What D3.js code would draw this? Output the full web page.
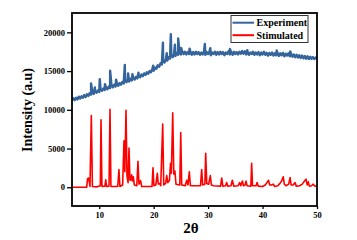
<!DOCTYPE html>
<html>
<head>
<meta charset="utf-8">
<script src="https://cdn.jsdelivr.net/npm/d3@7"></script>
<style>
  body { margin: 0; background: #fff; }
  text { font-family: "Liberation Serif", "Times New Roman", serif; font-weight: bold; }
</style>
</head>
<body>
<div id="visual"></div>
<script>
// experiment baseline, one value every 0.25 deg from 5 to 50
const expStart = 5;
const expStep = 0.25;
const expBase = [
  11250, 11500, 11250, 11550, 11350, 11700, 11450, 11750, 11550, 11900, 11650, 12000,
  11800, 12150, 11950, 12250, 12050, 12400, 12200, 12500, 12300, 12650, 12450, 12750,
  12550, 12900, 12650, 13000, 12800, 13150, 12900, 13250, 13000, 13400, 13100, 13450,
  13250, 13600, 13400, 13750, 13550, 13950, 13650, 14000, 13800, 14150, 13900, 14250,
  14050, 14400, 14200, 14550, 14350, 14700, 14500, 14850, 14650, 15000, 14850, 15250,
  15050, 15450, 15300, 15750, 15550, 16000, 15850, 16250, 16100, 16500, 16350, 16800,
  16600, 17000, 16800, 17200, 16950, 17350, 17100, 17450, 17150, 17500, 17200, 17500,
  17150, 17450, 17200, 17500, 17100, 17450, 17150, 17500, 17200, 17450, 17100, 17400,
  17150, 17500, 17100, 17450, 17200, 17500, 17050, 17400, 17200, 17500, 17100, 17450,
  17150, 17500, 17200, 17450, 17050, 17400, 17200, 17550, 17150, 17450, 17100, 17500,
  17200, 17450, 17150, 17500, 17250, 17600, 17250, 17550, 17150, 17450, 17100, 17400,
  17200, 17500, 17100, 17400, 17150, 17450, 17050, 17400, 17150, 17500, 17100, 17350,
  17000, 17350, 17100, 17400, 17000, 17300, 17050, 17350, 16950, 17300, 17050, 17350,
  16900, 17250, 17000, 17300, 16900, 17200, 16850, 17150, 16800, 17100, 16750, 17050,
  16700, 17000, 16650, 16950, 16600, 16900, 16550, 16850, 16600, 16800, 16550, 16750,
  16600
];
// sharp experiment reflections [2theta, counts]
const expPeaks = [
  [8.5, 13400], [9.2, 12900], [10.1, 13950], [11.05, 13300], [12.0, 15050],
  [13.1, 13900], [14.7, 15800], [15.3, 14700], [16.1, 14600], [17.2, 14800],
  [19.9, 15700], [21.7, 18650], [22.4, 17300], [23.15, 19750], [23.9, 18400],
  [24.5, 19200], [25.05, 18000], [26.6, 17900], [29.4, 18500], [30.4, 17950],
  [34.0, 17850], [37.2, 17700], [42.6, 17650], [45.1, 17550]
];
// simulated pattern [2theta, counts]
const simulated = [
  [5, 0], [7.7, 0], [7.85, 1100], [8.0, 1200], [8.15, 800], [8.3, 100], [8.55, 9250], [8.75, 100],
  [9.6, 50], [10.2, 200], [10.33, 8700], [10.5, 100], [11.05, 150], [11.2, 950], [11.35, 100],
  [11.8, 150], [11.98, 10050], [12.15, 100], [13.4, 100], [13.62, 2300], [13.8, 100],
  [14.3, 300], [14.55, 6000], [14.7, 2000], [14.92, 9950], [15.1, 1500], [15.3, 600],
  [15.47, 5050], [15.65, 900], [15.85, 1000], [15.96, 1600], [16.1, 800], [16.27, 1350],
  [16.45, 300], [16.9, 200], [17.12, 3350], [17.3, 400], [17.6, 850], [17.8, 100],
  [19.7, 100], [19.88, 2500], [20.05, 200], [20.4, 300], [20.67, 1800], [20.85, 400],
  [21.1, 500], [21.3, 200], [21.66, 8150], [21.85, 300], [22.2, 500], [22.4, 1500],
  [22.6, 600], [22.9, 900], [23.1, 3100], [23.25, 1800], [23.5, 9600], [23.7, 1700],
  [23.9, 2100], [24.1, 400], [24.8, 300], [24.97, 7050], [25.15, 300], [25.8, 200],
  [26.07, 900], [26.3, 300], [26.55, 2000], [26.75, 200], [28.6, 200], [28.82, 2300],
  [29.0, 300], [29.4, 400], [29.56, 4400], [29.75, 500], [30.1, 400], [30.4, 1500],
  [30.6, 300], [31.0, 200], [32.3, 150], [32.5, 1200], [32.7, 150], [33.2, 200],
  [33.4, 600], [33.6, 150], [34.2, 200], [34.45, 900], [34.7, 150], [35.5, 200],
  [35.8, 600], [36.0, 200], [36.3, 800], [36.5, 200], [36.8, 300], [36.96, 800],
  [37.15, 200], [37.85, 150], [38.0, 3100], [38.15, 200], [38.8, 200], [39.0, 600],
  [39.2, 150], [40.0, 100], [40.5, 300], [40.8, 600], [41.1, 900], [41.3, 300],
  [41.6, 300], [41.97, 400], [42.2, 100], [42.8, 200], [43.2, 500], [43.5, 800],
  [43.8, 1350], [44.0, 400], [44.3, 200], [44.8, 400], [45.05, 1250], [45.25, 300],
  [45.6, 300], [45.96, 600], [46.2, 150], [46.8, 200], [47.3, 400], [47.6, 700],
  [47.98, 1050], [48.2, 300], [48.4, 700], [48.6, 150], [49.0, 200], [49.3, 400],
  [49.6, 150], [50, 150]
];
const xTicks = [10, 20, 30, 40, 50];
const yTicks = [0, 5000, 10000, 15000, 20000];
const seriesNames = ["Experiment", "Stimulated"];
const seriesColors = ["#33649b", "#ff0000"];

const width = 357;
const height = 240;
const plotLeft = 72, plotRight = 317, plotTop = 13, plotBottom = 206;

const svg = d3.select("#visual")
    .append("svg")
    .attr("width", width)
    .attr("height", height);

const x = d3.scaleLinear().domain([5, 50]).range([plotLeft, plotRight]);
const y = d3.scaleLinear().domain([-2420, 22500]).range([plotBottom, plotTop]);

// merge baseline and peaks for the experiment trace
const experiment = expBase.map((v, i) => [expStart + i * expStep, v])
    .concat(expPeaks)
    .sort((a, b) => a[0] - b[0]);

svg.append("clipPath").attr("id", "plotclip")
    .append("rect")
    .attr("x", plotLeft).attr("y", plotTop)
    .attr("width", plotRight - plotLeft).attr("height", plotBottom - plotTop);

const line = d3.line().x(d => x(d[0])).y(d => y(d[1]));

svg.append("path")
    .datum(simulated)
    .attr("clip-path", "url(#plotclip)")
    .attr("fill", "none")
    .attr("stroke", seriesColors[1])
    .attr("stroke-width", 1.6)
    .attr("stroke-linejoin", "round")
    .attr("d", line);

svg.append("path")
    .datum(experiment)
    .attr("clip-path", "url(#plotclip)")
    .attr("fill", "none")
    .attr("stroke", seriesColors[0])
    .attr("stroke-width", 2.4)
    .attr("stroke-linejoin", "round")
    .attr("d", line);

// axes
const xAxis = svg.append("g")
    .attr("transform", "translate(0," + plotBottom + ")")
    .call(d3.axisBottom(x).tickValues(xTicks).tickSize(3).tickPadding(3));
const yAxis = svg.append("g")
    .attr("transform", "translate(" + plotLeft + ",0)")
    .call(d3.axisLeft(y).tickValues(yTicks).tickSize(5).tickPadding(2).tickFormat(d3.format("d")));
[xAxis, yAxis].forEach(g => {
    g.select(".domain").remove();
    g.selectAll("line").attr("stroke", "#000").attr("stroke-width", 1.3);
    g.selectAll("text")
        .attr("fill", "#000")
        .style("font-size", "8.5px")
        .style("font-family", "'Liberation Serif', serif")
        .style("font-weight", "bold");
});

// frame
svg.append("rect")
    .attr("x", plotLeft).attr("y", plotTop)
    .attr("width", plotRight - plotLeft).attr("height", plotBottom - plotTop)
    .attr("fill", "none")
    .attr("stroke", "#000")
    .attr("stroke-width", 1.8);

// axis titles
svg.append("text")
    .attr("x", 191).attr("y", 233)
    .attr("text-anchor", "middle")
    .style("font-size", "15px")
    .text("2θ");
svg.append("text")
    .attr("transform", "translate(32,110) rotate(-90)")
    .attr("text-anchor", "middle")
    .style("font-size", "14px")
    .text("Intensity (a.u)");

// legend
const legend = svg.append("g");
legend.append("rect")
    .attr("x", 231).attr("y", 15.5)
    .attr("width", 77).attr("height", 27)
    .attr("fill", "#fff")
    .attr("stroke", "#333")
    .attr("stroke-width", 1);
seriesNames.forEach((name, i) => {
    const ly = 22.7 + i * 12.5;
    legend.append("line")
        .attr("x1", 232.5).attr("x2", 254)
        .attr("y1", ly).attr("y2", ly)
        .attr("stroke", seriesColors[i])
        .attr("stroke-width", 2);
    legend.append("text")
        .attr("x", 256.5).attr("y", ly + 3.3)
        .style("font-size", "10px")
        .text(name);
});
</script>
</body>
</html>
